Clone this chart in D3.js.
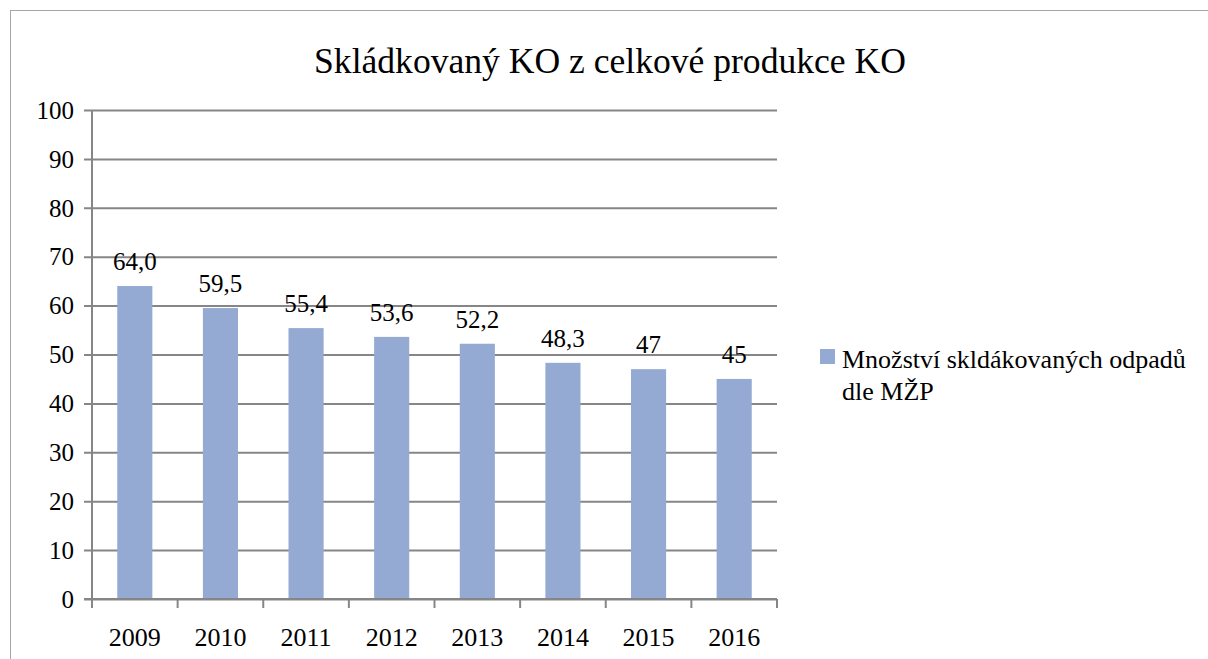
<!DOCTYPE html>
<html>
<head>
<meta charset="utf-8">
<script src="https://cdn.jsdelivr.net/npm/d3@7"></script>
<style>
	body { margin: 0; background: #fff; }
	svg { display: block; font-family: 'Liberation Serif', 'Times New Roman', serif; }
</style>
</head>
<body>
<div id="chart"></div>
<script>
// data
const years = ['2009', '2010', '2011', '2012', '2013', '2014', '2015', '2016']
const values = [64.0, 59.5, 55.4, 53.6, 52.2, 48.3, 47, 45]
const valueLabels = ['64,0', '59,5', '55,4', '53,6', '52,2', '48,3', '47', '45']
const yTicks = [0, 10, 20, 30, 40, 50, 60, 70, 80, 90, 100]
const seriesName = ['Množství skldákovaných odpadů', 'dle MŽP']
const title = 'Skládkovaný KO z celkové produkce KO'

const width = 1208
const height = 659
const plot = { left: 92, right: 777, top: 110, bottom: 599 }
const barColor = '#95aad2'
const gridColor = '#868686'

const svg = d3.select('#chart').append('svg').attr('width', width).attr('height', height)

// chart frame (cropped on the right and bottom)
svg.append('rect')
	.attr('x', 10.5).attr('y', 10.5)
	.attr('width', width + 10).attr('height', height + 10)
	.attr('fill', 'none').attr('stroke', '#a6a6a6').attr('stroke-width', 1)

const x = d3.scaleBand().domain(years).range([plot.left, plot.right]).paddingInner(0.59).paddingOuter(0.295)
const xEdge = d3.scaleLinear().domain([0, years.length]).range([plot.left, plot.right])
const y = d3.scaleLinear().domain([0, 100]).range([plot.bottom, plot.top])

svg.append('text')
	.attr('x', 610).attr('y', 73)
	.attr('text-anchor', 'middle')
	.attr('font-size', '35.6px')
	.text(title)

// gridlines + y labels
const yAxis = d3.axisLeft(y).tickValues(yTicks).tickSize(-(plot.right - plot.left)).tickPadding(18).tickFormat(d3.format('d'))
const gy = svg.append('g').attr('transform', `translate(${plot.left},0)`).call(yAxis)
gy.attr('font-family', null).attr('font-size', null)
gy.select('.domain').remove()
gy.selectAll('.tick line').attr('stroke', gridColor).attr('stroke-width', 2).attr('x2', -8).attr('x1', plot.right - plot.left)
gy.selectAll('.tick text').attr('font-size', '25px').attr('fill', '#000').attr('dy', '0.33em')

// bars
svg.append('g')
	.selectAll('rect')
	.data(values)
	.join('rect')
	.attr('x', (d, i) => x(years[i]))
	.attr('y', d => y(d))
	.attr('width', x.bandwidth())
	.attr('height', d => y(0) - y(d))
	.attr('fill', barColor)

// value labels
svg.append('g')
	.selectAll('text')
	.data(values)
	.join('text')
	.attr('x', (d, i) => x(years[i]) + x.bandwidth() / 2)
	.attr('y', d => y(d) - 16)
	.attr('text-anchor', 'middle')
	.attr('font-size', '25px')
	.text((d, i) => valueLabels[i])

// axes lines
svg.append('line')
	.attr('x1', plot.left).attr('x2', plot.left)
	.attr('y1', plot.top).attr('y2', plot.bottom + 9)
	.attr('stroke', gridColor).attr('stroke-width', 2)
svg.append('line')
	.attr('x1', plot.left - 8).attr('x2', plot.right)
	.attr('y1', plot.bottom).attr('y2', plot.bottom)
	.attr('stroke', gridColor).attr('stroke-width', 2)
svg.append('g')
	.selectAll('line')
	.data(d3.range(years.length + 1))
	.join('line')
	.attr('x1', d => xEdge(d)).attr('x2', d => xEdge(d))
	.attr('y1', plot.bottom).attr('y2', plot.bottom + 9)
	.attr('stroke', gridColor).attr('stroke-width', 2)

// x labels
svg.append('g')
	.selectAll('text')
	.data(years)
	.join('text')
	.attr('x', d => x(d) + x.bandwidth() / 2)
	.attr('y', 646)
	.attr('text-anchor', 'middle')
	.attr('font-size', '26px')
	.text(d => d)

// legend
const legend = svg.append('g')
legend.append('rect')
	.attr('x', 820).attr('y', 349).attr('width', 15).attr('height', 15)
	.attr('fill', barColor)
legend.selectAll('text')
	.data(seriesName)
	.join('text')
	.attr('x', 842)
	.attr('y', (d, i) => 368 + i * 32)
	.attr('font-size', '26px')
	.text(d => d)
</script>
</body>
</html>
